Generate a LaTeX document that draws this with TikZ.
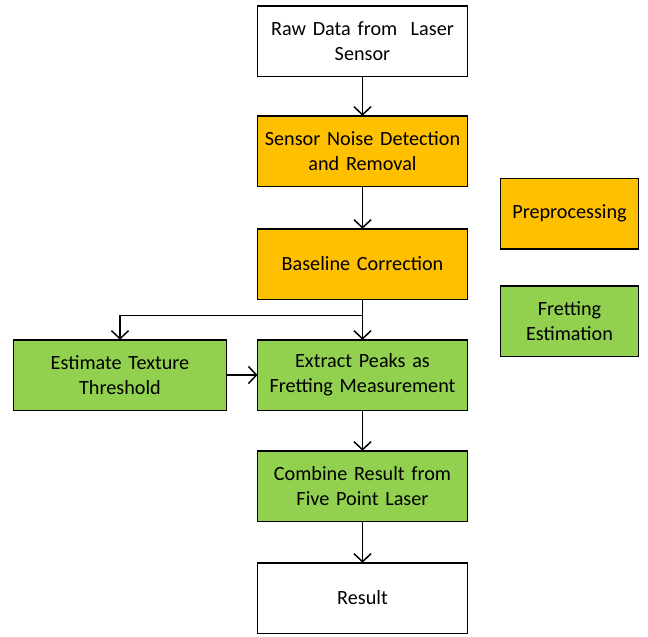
\documentclass[tikz,border=0pt]{standalone}
\usepackage{fontspec}
\setmainfont{Carlito}
\usepackage{tikz}
\usetikzlibrary{arrows.meta,positioning}

\definecolor{prepcol}{HTML}{FFC000}
\definecolor{fretcol}{HTML}{92D050}

\begin{document}
\begin{tikzpicture}[->,>={Straight Barb[length=4pt,width=8.5pt]},line width=0.75pt,
                    node distance=20.25pt,
                    font=\fontsize{10.1}{12.5}\selectfont]
  \tikzset{box/.style={draw,-,rectangle,minimum width=105pt,minimum height=35.25pt,
                       text width=102pt,align=center,inner sep=1pt,outer sep=0pt},
           prep/.style={box,fill=prepcol},
           fret/.style={box,fill=fretcol},
           legend/.style={box,minimum width=69pt,text width=66pt}}
  \useasboundingbox (0,0) rectangle (324pt,-318.5pt);

  \node[box]  (raw)     at (181.25pt,-20.5pt) {Raw Data from~ Laser\\Sensor};
  \node[prep] (noise)   [below=19.75pt of raw]   {Sensor Noise Detection\\and Removal};
  \node[prep] (base)    [below=21.25pt of noise] {Baseline Correction};
  \node[fret] (extract) [below=of base]          {Extract Peaks as\\Fretting Measurement};
  \node[fret] (est)     [left=15.5pt of extract,minimum width=106.5pt] {Estimate Texture\\Threshold};
  \node[fret] (combine) [below=of extract]       {Combine Result from\\Five Point Laser};
  \node[box]  (result)  [below=20.75pt of combine] {Result};

  % legend
  \node[legend,fill=prepcol] (lprep) at (284.75pt,-106.75pt) {Preprocessing};
  \node[legend,fill=fretcol] (lfret) at (284.75pt,-160.5pt) {Fretting\\Estimation};

  \draw (raw) -- (noise);
  \draw (noise) -- (base);
  \draw (base) -- (extract);
  \draw (base.south) -- ++(0,-8pt) -| (est.north);
  \draw (est) -- (extract);
  \draw (extract) -- (combine);
  \draw (combine) -- (result);

\end{tikzpicture}
\end{document}
